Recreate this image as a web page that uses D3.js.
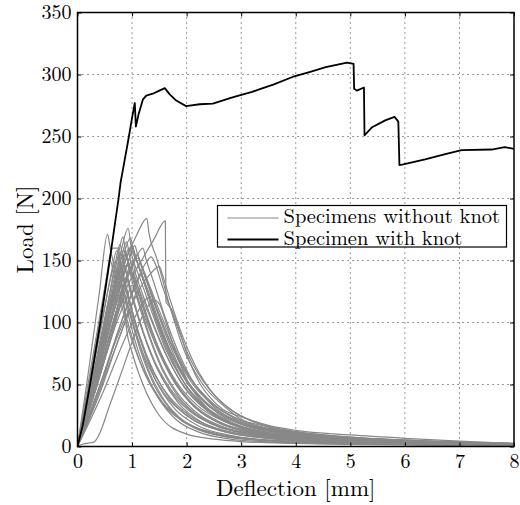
<!DOCTYPE html>
<html>
<head>
<meta charset="utf-8">
<script src="https://cdnjs.cloudflare.com/ajax/libs/d3/7.8.5/d3.min.js"></script>
</head>
<body style="margin:0;background:#fff">
<svg id="chart" width="520" height="505"></svg>
<script>
// tick values and labels
const xTicks = [0, 1, 2, 3, 4, 5, 6, 7, 8];
const yTicks = [0, 50, 100, 150, 200, 250, 300, 350];
const xLabel = 'Deflection [mm]';
const yLabel = 'Load [N]';
const legendLabels = ['Specimens without knot', 'Specimen with knot'];

// specimen with knot: [deflection mm, load N]
const knot = [[0,0],[0.1,18],[0.23,50],[0.42,100],[0.59,150],[0.7,184],[0.75,199],[0.79,213],
  [0.86,230],[0.93,247],[1.0,265],[1.05,277],[1.07,258],[1.12,268],[1.2,280],[1.26,283],
  [1.38,284.5],[1.5,287],[1.6,289],[1.69,284],[1.81,279],[1.99,274.5],[2.24,276],[2.48,276.5],
  [2.84,281.5],[3.2,286],[3.33,288],[3.6,292],[3.94,298],[4.25,302],[4.55,306],[4.94,309.5],[5.06,308.5],[5.07,288.5],
  [5.12,287],[5.25,289.5],[5.26,251],[5.4,257.5],[5.64,263],[5.81,265.8],[5.88,262],[5.9,227],
  [5.97,227.5],[6.37,231.5],[6.74,235.8],[7.04,239],[7.59,239.5],[7.83,241.5],[8,240]];

// specimens without knot, one array per specimen
const s01 = [[0,0],[0.2,60],[0.4,124],[0.55,171],[0.6,160],[0.7,140],[0.85,112],[1.0,88],[1.2,62],[1.5,38],[1.9,21],[2.5,11],[3.2,6],[4.2,3.5],[5.5,2.2],[8,1]];
const s02 = [[0,0],[0.3,55],[0.6,115],[0.8,158],[0.93,176],[0.98,162],[1.1,148],[1.3,125],[1.5,100],[1.75,72],[2.0,52],[2.4,33],[3.0,19],[4.0,10],[5.0,6],[6.5,3.5],[8,2]];
const s03 = [[0,0],[0.3,52],[0.6,108],[0.9,152],[1.1,172],[1.27,184],[1.31,172],[1.45,152],[1.7,112],[1.95,78],[2.3,50],[2.7,32],[3.0,22],[3.5,16],[4.0,12],[5.0,7.5],[6.0,5.3],[7.0,3.8],[8,2.4]];
const s04 = [[0,0],[0.3,42],[0.6,90],[0.9,128],[1.2,152],[1.4,167],[1.61,182],[1.62,117],[1.72,111],[1.85,96],[2.0,75],[2.24,51],[2.42,40],[2.66,30],[3.0,24],[3.5,17],[4.0,13],[5.0,9.3],[6.0,6.6],[7.0,4.4],[8,2.5]];
const s05 = [[0,0],[0.1,2],[0.3,3.5],[0.4,10],[0.58,32],[0.76,54],[0.95,78],[1.1,96],[1.25,110],[1.4,118],[1.5,115],[1.62,100],[1.8,76],[2.05,50],[2.4,30],[3.0,15],[4.0,7],[5.0,4],[6.5,2.5],[8,1.5]];
const s06 = [[0,0],[0.2,48],[0.45,112],[0.65,160],[0.74,160],[0.8,145],[0.95,118],[1.15,88],[1.4,60],[1.7,38],[2.1,22],[2.7,12],[3.5,6.5],[4.5,4],[6,2.5],[8,1.2]];
const s07 = [[0,0],[0.25,50],[0.55,115],[0.75,155],[0.83,169],[0.88,158],[1.0,140],[1.2,112],[1.45,82],[1.75,55],[2.1,35],[2.6,20],[3.2,12],[4.2,7],[5.5,4],[8,1.8]];
const s08 = [[0,0],[0.3,52],[0.6,110],[0.82,145],[0.95,160],[1.02,150],[1.15,135],[1.35,110],[1.6,80],[1.9,55],[2.3,34],[2.8,20],[3.5,11],[4.5,6.5],[6,3.5],[8,2]];
const s09 = [[0,0],[0.35,55],[0.7,115],[0.92,148],[1.05,162],[1.1,155],[1.25,138],[1.45,115],[1.7,88],[2.0,60],[2.4,38],[2.9,22],[3.6,13],[4.6,8],[6,4.5],[8,2.2]];
const s10 = [[0,0],[0.3,55],[0.6,112],[0.8,145],[0.88,155],[0.95,142],[1.1,118],[1.3,90],[1.55,62],[1.85,40],[2.3,22],[3.0,11],[4.0,6],[5.5,3],[8,1.3]];
const s11 = [[0,0],[0.35,50],[0.7,108],[0.9,138],[1.0,150],[1.06,140],[1.2,122],[1.4,98],[1.65,72],[1.95,48],[2.4,28],[3.0,15],[4.0,8],[5.5,4],[8,1.8]];
const s12 = [[0,0],[0.35,48],[0.7,102],[0.95,140],[1.1,155],[1.15,148],[1.3,130],[1.5,106],[1.75,80],[2.05,56],[2.5,34],[3.0,21],[3.8,12],[5.0,7],[6.5,4],[8,2.3]];
const s13 = [[0,0],[0.4,45],[0.8,100],[1.1,135],[1.25,148],[1.35,153],[1.42,148],[1.55,130],[1.8,100],[2.05,72],[2.4,47],[2.8,30],[3.3,19],[4.0,12],[5.0,7.5],[6.5,4.2],[8,2.4]];
const s14 = [[0,0],[0.25,48],[0.55,100],[0.72,132],[0.8,145],[0.86,135],[1.0,110],[1.2,80],[1.45,52],[1.75,32],[2.2,17],[2.8,9],[3.6,5],[5,3],[8,1]];
const s15 = [[0,0],[0.25,50],[0.5,100],[0.68,130],[0.75,140],[0.82,128],[0.95,108],[1.15,78],[1.4,50],[1.7,30],[2.1,16],[2.7,8],[3.5,4.5],[5,2.5],[8,0.8]];
const s16 = [[0,0],[0.3,48],[0.6,100],[0.8,125],[0.9,135],[0.96,126],[1.1,106],[1.3,80],[1.55,55],[1.85,35],[2.3,19],[3.0,10],[4.0,5.5],[5.5,3],[8,1.2]];
const s17 = [[0,0],[0.35,48],[0.7,98],[0.9,120],[1.0,130],[1.08,122],[1.25,102],[1.5,75],[1.8,50],[2.15,32],[2.6,19],[3.2,11],[4.2,6.5],[5.5,3.8],[8,1.8]];
const s18 = [[0,0],[0.22,50],[0.45,102],[0.62,138],[0.7,150],[0.76,140],[0.9,118],[1.08,90],[1.3,65],[1.6,42],[2.0,25],[2.6,13],[3.4,7],[4.5,4],[6,2.5],[8,1.2]];
const s19 = [[0,0],[0.4,48],[0.8,100],[1.05,128],[1.2,140],[1.26,134],[1.4,116],[1.6,92],[1.85,66],[2.15,44],[2.6,26],[3.2,15],[4.0,9],[5.0,5.5],[6.5,3.2],[8,2]];
const s20 = [[0,0],[0.3,42],[0.6,85],[0.78,112],[0.85,120],[0.92,108],[1.05,86],[1.25,60],[1.5,38],[1.8,22],[2.2,12],[2.8,6],[3.6,3.5],[5,2],[8,0.8]];
const s21 = [[0,0],[0.4,45],[0.8,92],[1.0,115],[1.1,125],[1.16,118],[1.3,100],[1.5,78],[1.75,55],[2.05,36],[2.5,21],[3.0,13],[4.0,7],[5.5,4],[8,1.8]];
const s22 = [[0,0],[0.35,42],[0.7,85],[0.88,104],[0.95,110],[1.0,102],[1.12,85],[1.3,62],[1.55,40],[1.85,24],[2.3,13],[3.0,6.5],[4.0,3.5],[5.5,2],[8,0.6]];
const s23 = [[0,0],[0.25,45],[0.5,92],[0.7,122],[0.8,130],[0.85,115],[0.9,94],[1.0,76],[1.2,50],[1.5,25],[2.0,10],[2.5,6],[3.0,4],[4.0,2.5],[5.0,1.6],[8,0.5]];
const s24 = [[0,0],[0.35,52],[0.7,108],[1.0,145],[1.2,160],[1.25,152],[1.4,132],[1.6,105],[1.85,76],[2.15,50],[2.5,32],[3.0,19],[3.8,11],[5.0,6.5],[6.5,3.8],[8,2.2]];
const s25 = [[0,0],[0.4,42],[0.8,92],[1.15,128],[1.35,140],[1.5,145],[1.56,138],[1.7,118],[1.9,92],[2.15,66],[2.5,42],[2.9,27],[3.4,17],[4.2,10],[5.2,6.2],[6.5,3.8],[8,2.2]];
const s26 = [[0,0],[0.2,52],[0.42,108],[0.55,140],[0.6,150],[0.66,140],[0.8,115],[1.0,85],[1.25,58],[1.55,36],[1.95,20],[2.5,10],[3.3,5.5],[4.5,3],[8,1]];
const s27 = [[0,0],[0.45,42],[0.9,90],[1.15,112],[1.3,120],[1.36,114],[1.5,96],[1.7,74],[1.95,52],[2.3,33],[2.8,19],[3.4,11],[4.3,6.5],[5.5,3.8],[8,1.8]];
const s28 = [[0,0],[0.28,52],[0.58,112],[0.8,152],[0.9,165],[0.96,152],[1.1,130],[1.3,102],[1.55,72],[1.85,47],[2.25,28],[2.8,16],[3.5,9],[4.5,5.5],[6,3],[8,1.6]];
const s29 = [[0,0],[0.3,50],[0.6,104],[0.8,135],[0.9,146],[1.0,140],[1.15,124],[1.35,102],[1.6,76],[1.9,52],[2.3,32],[2.8,19],[3.5,11],[4.5,6.5],[6,3.5],[8,1.8]];
const s30 = [[0,0],[0.32,50],[0.65,106],[0.9,145],[1.02,157],[1.1,148],[1.25,128],[1.45,100],[1.7,72],[2.0,48],[2.45,28],[3.0,16],[3.8,9],[5.0,5],[6.5,3],[8,1.6]];
const s31 = [[0,0],[0.25,45],[0.5,100],[0.68,145],[0.78,163],[0.84,150],[0.98,125],[1.2,92],[1.45,64],[1.75,42],[2.1,27],[2.6,16],[3.3,9.5],[4.3,5.5],[5.8,3.2],[8,1.6]];
const s32 = [[0,0],[0.28,48],[0.55,102],[0.75,142],[0.85,158],[0.9,152],[1.05,132],[1.25,106],[1.5,78],[1.8,53],[2.2,33],[2.7,20],[3.4,12],[4.4,7],[6,3.8],[8,2]];
const s33 = [[0,0],[0.3,50],[0.6,108],[0.82,150],[0.97,168],[1.03,158],[1.2,136],[1.4,110],[1.65,82],[1.95,57],[2.35,36],[2.9,21],[3.6,12.5],[4.6,7.5],[6.2,4],[8,2.1]];
const s34 = [[0,0],[0.22,48],[0.45,100],[0.62,140],[0.72,158],[0.78,146],[0.92,120],[1.1,92],[1.35,64],[1.65,42],[2.05,25],[2.6,14],[3.4,7.5],[4.5,4.2],[6,2.6],[8,1.3]];
const s35 = [[0,0],[0.32,52],[0.65,110],[0.88,150],[1.0,162],[1.07,152],[1.22,132],[1.42,106],[1.68,78],[2.0,52],[2.4,33],[2.95,19],[3.7,11],[4.8,6.5],[6.3,3.6],[8,1.9]];
const s36 = [[0,0],[0.3,46],[0.6,98],[0.8,132],[0.92,148],[0.98,140],[1.12,118],[1.3,92],[1.55,64],[1.85,42],[2.25,25],[2.8,14],[3.6,7.5],[4.8,4.2],[6.5,2.4],[8,1.3]];
const s37 = [[0,0],[0.26,50],[0.52,104],[0.7,140],[0.8,155],[0.85,148],[0.97,128],[1.15,100],[1.38,72],[1.68,48],[2.05,30],[2.55,17],[3.3,9.5],[4.4,5.5],[6,3],[8,1.5]];
const s38 = [[0,0],[0.35,50],[0.7,106],[0.95,142],[1.12,152],[1.18,145],[1.33,126],[1.55,100],[1.8,74],[2.1,51],[2.5,33],[3.0,21],[3.7,13],[4.7,8],[6.2,4.6],[8,2.4]];
const specimens = [s01,s02,s03,s04,s05,s06,s07,s08,s09,s10,s11,s12,s13,s14,s15,s16,s17,s18,s19,
  s20,s21,s22,s23,s24,s25,s26,s27,s28,s29,s30,s31,s32,s33,s34,s35,s36,s37,s38];

const FONT = "'Latin Modern Roman', 'Liberation Serif', serif";

const margin = {top: 12.5, right: 6, bottom: 58.5, left: 77.5};
const width = 520 - margin.left - margin.right;
const height = 505 - margin.top - margin.bottom;

const svg = d3.select('#chart');
const g = svg.append('g').attr('transform', `translate(${margin.left},${margin.top})`);

const x = d3.scaleLinear().domain([0, 8]).range([0, width]);
const y = d3.scaleLinear().domain([0, 350]).range([height, 0]);

// dotted grid
g.append('g')
  .selectAll('line')
  .data(xTicks.slice(1, -1))
  .join('line')
  .attr('x1', d => x(d)).attr('x2', d => x(d))
  .attr('y1', 0).attr('y2', height)
  .attr('stroke', '#000').attr('stroke-width', 0.8)
  .attr('stroke-dasharray', '1,4');
g.append('g')
  .selectAll('line')
  .data(yTicks.slice(1, -1))
  .join('line')
  .attr('x1', 0).attr('x2', width)
  .attr('y1', d => y(d)).attr('y2', d => y(d))
  .attr('stroke', '#000').attr('stroke-width', 0.8)
  .attr('stroke-dasharray', '1,4');

const line = d3.line().x(d => x(d[0])).y(d => y(d[1])).curve(d3.curveMonotoneX);

svg.append('defs').append('clipPath').attr('id', 'clip')
  .append('rect').attr('width', width).attr('height', height);

const plot = g.append('g').attr('clip-path', 'url(#clip)');

plot.selectAll('path.spec')
  .data(specimens)
  .join('path')
  .attr('class', 'spec')
  .attr('d', line)
  .attr('fill', 'none')
  .attr('stroke', '#888')
  .attr('stroke-width', 1.2)
  .attr('stroke-linejoin', 'round');

plot.append('path')
  .datum(knot)
  .attr('d', d3.line().x(d => x(d[0])).y(d => y(d[1])))
  .attr('fill', 'none')
  .attr('stroke', '#000')
  .attr('stroke-width', 1.8)
  .attr('stroke-linejoin', 'round');

// axes, MATLAB style with inward ticks on all sides
const xAxis = d3.axisBottom(x).tickValues(xTicks).tickSizeInner(-4).tickSizeOuter(0).tickPadding(7);
const yAxis = d3.axisLeft(y).tickValues(yTicks).tickSizeInner(-4).tickSizeOuter(0).tickPadding(6);

const gx = g.append('g').attr('transform', `translate(0,${height})`).call(xAxis);
const gy = g.append('g').call(yAxis);
g.append('g').call(d3.axisTop(x).tickValues(xTicks).tickSizeInner(-4).tickSizeOuter(0).tickFormat(''));
g.append('g').attr('transform', `translate(${width},0)`)
  .call(d3.axisRight(y).tickValues(yTicks).tickSizeInner(-4).tickSizeOuter(0).tickFormat(''));

g.selectAll('.domain').remove();
g.selectAll('.tick line').attr('stroke', '#000').attr('stroke-width', 1);
[gx, gy].forEach(a => a.attr('font-family', FONT).attr('font-size', 20)
  .selectAll('text').attr('fill', '#000'));

g.append('rect')
  .attr('width', width).attr('height', height)
  .attr('fill', 'none').attr('stroke', '#000').attr('stroke-width', 1.5);

// axis titles
svg.append('text')
  .attr('x', margin.left + width / 2)
  .attr('y', 496)
  .attr('text-anchor', 'middle')
  .attr('font-family', FONT)
  .attr('font-size', 23)
  .text(xLabel);
svg.append('text')
  .attr('transform', `translate(33,${margin.top + height / 2}) rotate(-90)`)
  .attr('text-anchor', 'middle')
  .attr('font-family', FONT)
  .attr('font-size', 23)
  .text(yLabel);

// legend
const lg = svg.append('g').attr('transform', 'translate(217.5,205.5)');
lg.append('rect')
  .attr('width', 289).attr('height', 41.5)
  .attr('fill', '#fff').attr('stroke', '#000').attr('stroke-width', 1.2);
const legColors = ['#888', '#000'];
const legWidths = [1.2, 1.8];
legendLabels.forEach((lab, i) => {
  const yy = 12.5 + i * 21.5;
  lg.append('line')
    .attr('x1', 10).attr('x2', 61).attr('y1', yy).attr('y2', yy)
    .attr('stroke', legColors[i]).attr('stroke-width', legWidths[i]);
  lg.append('text')
    .attr('x', 66).attr('y', yy + 5)
    .attr('font-family', FONT)
    .attr('font-size', 20.5)
    .text(lab);
});
</script>
</body>
</html>
